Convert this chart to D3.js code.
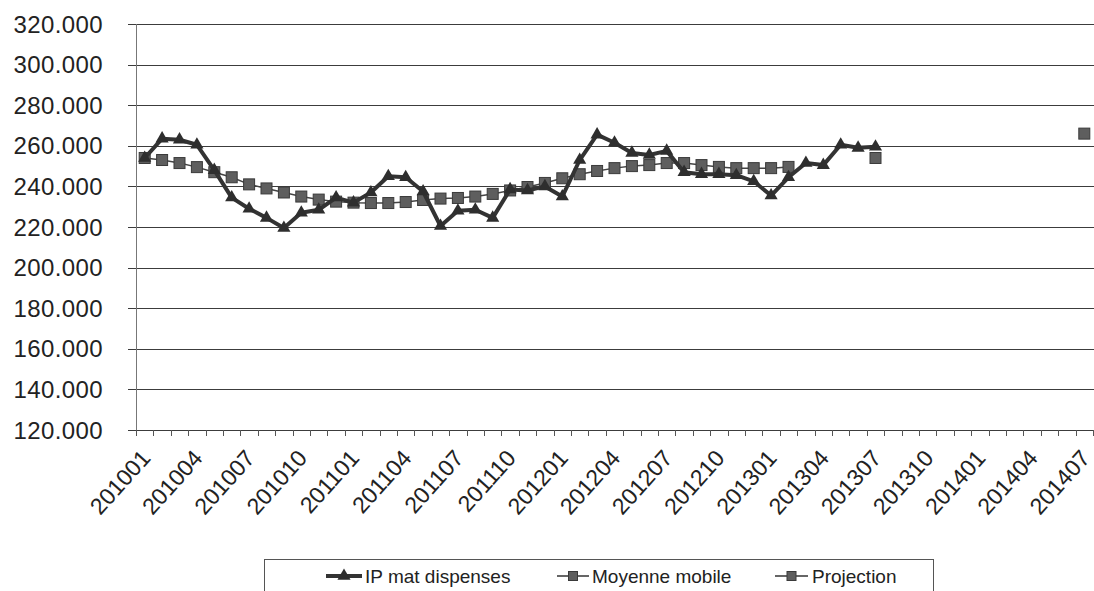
<!DOCTYPE html>
<html>
<head>
<meta charset="utf-8">
<script src="https://cdn.jsdelivr.net/npm/d3@7"></script>
<style>
  html, body { margin: 0; padding: 0; background: #fff; }
  svg { display: block; font-family: "Liberation Sans", Arial, sans-serif; }
</style>
</head>
<body>
<svg id="chart" width="1094" height="591"></svg>
<script>
// Monthly categories (YYYYMM)
const months = [
  "201001","201002","201003","201004","201005","201006","201007","201008","201009","201010","201011","201012",
  "201101","201102","201103","201104","201105","201106","201107","201108","201109","201110","201111","201112",
  "201201","201202","201203","201204","201205","201206","201207","201208","201209","201210","201211","201212",
  "201301","201302","201303","201304","201305","201306","201307","201308","201309","201310","201311","201312",
  "201401","201402","201403","201404","201405","201406","201407"
];

// Labelled months on the category axis
const tickMonths = [
  "201001","201004","201007","201010","201101","201104","201107","201110","201201","201204",
  "201207","201210","201301","201304","201307","201310","201401","201404","201407"
];

// Value axis ticks
const yTicks = [120, 140, 160, 180, 200, 220, 240, 260, 280, 300, 320];

// IP mat dispenses, 201001 .. 201307
const ipValues = [
  254, 263.5, 263, 260.5, 248, 234.5, 229, 224.5, 219.5, 227, 228.5, 234.5,
  232, 237, 245, 244.5, 237.5, 220.5, 228, 228.5, 224.5, 238.5, 238, 240,
  235, 253, 265.5, 261.5, 256.5, 255.5, 257.5, 247, 246, 246, 245.5, 242.5,
  235.5, 244.5, 251.5, 250.5, 260.5, 259, 259.5
];

// Moyenne mobile, 201001 .. 201302
const maValues = [
  254, 253, 251.5, 249.5, 247, 244.5, 241, 239, 237, 235, 233.5, 232.5,
  232, 231.8, 231.8, 232.3, 233.3, 234, 234.3, 235, 236.3, 238, 239.7, 241.7,
  244, 246, 247.6, 249, 250, 250.5, 251.5, 251.5, 250.5, 249.6, 249, 249,
  249, 249.6
];

// Projection points
const projMonths = ["201307", "201407"];
const projValues = [254, 266];

const seriesNames = ["IP mat dispenses", "Moyenne mobile", "Projection"];

const svg = d3.select("#chart");

const x = d3.scaleBand().domain(months).range([136, 136 + 55 * 17.4]).padding(0);
const cx = m => x(m) + x.bandwidth() / 2;
const y = d3.scaleLinear().domain([120, 320]).range([430, 24]);

const ipData = ipValues.map((v, i) => ({ m: months[i], v }));
const maData = maValues.map((v, i) => ({ m: months[i], v }));
const projData = projValues.map((v, i) => ({ m: projMonths[i], v }));

// Horizontal gridlines with outside tick marks
svg.append("g").selectAll("line").data(yTicks).join("line")
  .attr("x1", 128).attr("x2", 1094)
  .attr("y1", d => Math.round(y(d)) + 0.5).attr("y2", d => Math.round(y(d)) + 0.5)
  .attr("stroke", "#3c3c3c").attr("stroke-width", 1.1);

// Value axis line
svg.append("line")
  .attr("x1", 136.5).attr("x2", 136.5).attr("y1", y(320)).attr("y2", y(120) + 6)
  .attr("stroke", "#777").attr("stroke-width", 1);

// Value axis labels
svg.append("g").selectAll("text").data(yTicks).join("text")
  .attr("x", 103).attr("y", d => y(d)).attr("dy", "0.36em")
  .attr("text-anchor", "end")
  .attr("font-size", 24).attr("letter-spacing", "0.4px")
  .attr("fill", "#222")
  .text(d => d3.format(".3f")(d));

// Category tick marks at band boundaries
const boundaries = months.map(m => x(m)).concat([x(months[months.length - 1]) + x.bandwidth()]);
svg.append("g").selectAll("line").data(boundaries).join("line")
  .attr("x1", d => Math.round(d) + 0.5).attr("x2", d => Math.round(d) + 0.5)
  .attr("y1", y(120)).attr("y2", y(120) + 6)
  .attr("stroke", "#555").attr("stroke-width", 1);

// Category labels, rotated
svg.append("g").selectAll("text").data(tickMonths).join("text")
  .attr("transform", m => `translate(${cx(m) + 7},${y(120) + 29}) rotate(-48)`)
  .attr("text-anchor", "end")
  .attr("font-size", 23)
  .attr("fill", "#222")
  .text(m => m);

// Moyenne mobile line + square markers
const line = d3.line().x(d => cx(d.m)).y(d => y(d.v));
svg.append("path").datum(maData)
  .attr("d", line).attr("fill", "none")
  .attr("stroke", "#444").attr("stroke-width", 1.5);

svg.append("g").selectAll("rect").data(maData).join("rect")
  .attr("x", d => cx(d.m) - 5.5).attr("y", d => y(d.v) - 5.5)
  .attr("width", 11).attr("height", 11)
  .attr("fill", "#5e5e5e").attr("stroke", "#3a3a3a").attr("stroke-width", 1);

// IP mat dispenses thick line + triangle markers
svg.append("path").datum(ipData)
  .attr("d", line).attr("fill", "none")
  .attr("stroke", "#333").attr("stroke-width", 4).attr("stroke-linejoin", "round");

const tri = d3.symbol().type(d3.symbolTriangle).size(75);
svg.append("g").selectAll("path").data(ipData).join("path")
  .attr("transform", d => `translate(${cx(d.m)},${y(d.v)})`)
  .attr("d", tri)
  .attr("fill", "#2e2e2e");

// Projection squares (not connected across the gap)
svg.append("g").selectAll("rect").data(projData).join("rect")
  .attr("x", d => cx(d.m) - 5.5).attr("y", d => y(d.v) - 5.5)
  .attr("width", 11).attr("height", 11)
  .attr("fill", "#5e5e5e").attr("stroke", "#3a3a3a").attr("stroke-width", 1);

// Legend
const lg = svg.append("g");
lg.append("rect")
  .attr("x", 264.5).attr("y", 559.5).attr("width", 669).attr("height", 50)
  .attr("fill", "#fff").attr("stroke", "#555").attr("stroke-width", 1);

const legendItems = [
  { name: seriesNames[0], x0: 326, x1: 362, tx: 365, kind: "tri" },
  { name: seriesNames[1], x0: 557, x1: 589, tx: 592, kind: "sq" },
  { name: seriesNames[2], x0: 775, x1: 808, tx: 812, kind: "sq" }
];
const ly = 576;
legendItems.forEach(it => {
  const g = lg.append("g");
  g.append("line").attr("x1", it.x0).attr("x2", it.x1).attr("y1", ly).attr("y2", ly)
    .attr("stroke", "#333").attr("stroke-width", it.kind === "tri" ? 4 : 1.5);
  const mx = (it.x0 + it.x1) / 2;
  if (it.kind === "tri") {
    g.append("path").attr("transform", `translate(${mx},${ly})`).attr("d", tri).attr("fill", "#2e2e2e");
  } else {
    g.append("rect").attr("x", mx - 4.5).attr("y", ly - 4.5).attr("width", 9).attr("height", 9)
      .attr("fill", "#5e5e5e").attr("stroke", "#3a3a3a");
  }
  g.append("text").attr("x", it.tx).attr("y", ly + 7)
    .attr("font-size", 19).attr("fill", "#222").text(it.name);
});
</script>
</body>
</html>
